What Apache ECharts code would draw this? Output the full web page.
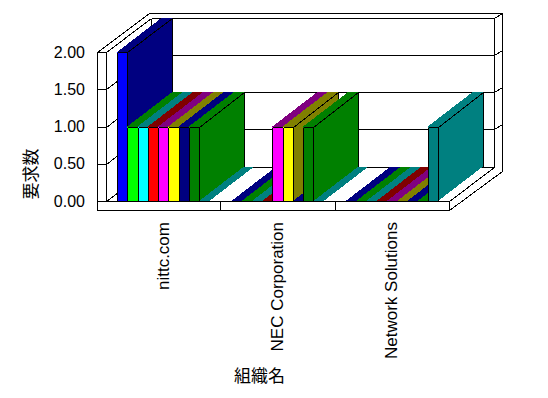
<!DOCTYPE html>
<html>
<head>
<meta charset="utf-8">
<style>
html,body{margin:0;padding:0;background:#fff}
#chart{width:548px;height:398px}
#chart svg path,#chart svg polygon,#chart svg polyline,#chart svg line,#chart svg rect{shape-rendering:crispEdges}
#chart svg text{-webkit-font-smoothing:none;font-smooth:never;text-rendering:optimizeSpeed}
</style>
<script src="https://cdn.jsdelivr.net/npm/echarts@6/dist/echarts.min.js"></script>
</head>
<body>
<div id="chart"></div>
<script>
const categories = ['nittc.com', 'NEC Corporation', 'Network Solutions'];
const yTicks = [0, 0.5, 1, 1.5, 2];
const series1 = [2, 0, 0];
const series2 = [1, 0, 0];
const series3 = [1, 0, 0];
const series4 = [1, 0, 0];
const series5 = [1, 1, 0];
const series6 = [1, 1, 0];
const series7 = [1, 0, 0];
const series8 = [1, 1, 0];
const series9 = [0, 0, 1];
const allSeries = [series1, series2, series3, series4, series5, series6, series7, series8, series9];
const frontColors = ['#0000ff', '#00ff00', '#00ffff', '#ff0000', '#ff00ff', '#ffff00', '#000080', '#008000', '#008080'];
const shadeColors = ['#000080', '#008000', '#008080', '#800000', '#800080', '#808000', '#000080', '#008000', '#008080'];
const xAxisTitle = '組織名';
const yAxisTitle = '要求数';

const DX = 45, DY = -34.5;          // depth of the box
const BAR = 10.25;                  // bar width
const BAND_LEFT = 9, BAND_BOTTOM = 9; // thickness of outer frame
const OX = 8, OY = -5;              // right band projection
const ink = {stroke: '#000', lineWidth: 1, fill: null};
const px = v => Math.round(v) + 0.5;

function poly(points, fill) {
  return {type: 'polygon', silent: true, shape: {points}, style: {fill, stroke: null}};
}
function stroke(points) {
  return {type: 'polyline', silent: true, shape: {points: points.map(p => [px(p[0]), px(p[1])])}, style: ink};
}

function renderFrame(params, api) {
  const tick = api.value(1);
  const y = api.coord([0, tick])[1];
  const sys = params.coordSys;
  const L = sys.x, R = sys.x + sys.width, T = sys.y, B = sys.y + sys.height;
  const els = [];
  const backY = y + DY;
  if (params.dataIndex === 0) {
    // Frame is drawn once, with the floor tick
    const bw = api.size([1, 0])[0];
    els.push(poly([[L - BAND_LEFT, T], [L, T], [L, B + BAND_BOTTOM], [L - BAND_LEFT, B + BAND_BOTTOM]], '#fff'));
    els.push(stroke([[L - BAND_LEFT, T], [L, T], [L, B]]));
    els.push(stroke([[L - BAND_LEFT, T], [L + DX - 2, T + DY - 5], [R + DX + OX, T + DY - 5], [R + DX + OX, B + DY + 4], [R, B + BAND_BOTTOM]]));
    els.push(stroke([[L, T], [L + DX, T + DY]]));
    els.push(stroke([[L + DX, T + DY], [R + DX, T + DY], [R + DX, B + DY], [L + DX, B + DY], [L + DX, T + DY]]));
    els.push(stroke([[R + DX, T + DY], [R + DX + OX, T + DY - 5]]));
    els.push(stroke([[L + DX, B + DY], [L, B]]));
    els.push(stroke([[R + DX, B + DY], [R, B]]));
    els.push(stroke([[L - BAND_LEFT, T], [L - BAND_LEFT, B + BAND_BOTTOM], [R, B + BAND_BOTTOM], [R, B], [L, B]]));
    for (let i = 1; i < categories.length; i++) {
      const x = L + i * bw;
      els.push(stroke([[x, B], [x, B + BAND_BOTTOM]]));
    }
  } else if (tick < yTicks[yTicks.length - 1]) {
    els.push(stroke([[L - BAND_LEFT, y], [L, y], [L + DX, backY], [R + DX, backY], [R + DX + OX, backY + OY]]));
  }
  if (tick === yTicks[0]) {
    // floor tick on the left band
    els.push(stroke([[L - BAND_LEFT, y], [L, y]]));
  }
  return {type: 'group', children: els};
}

function makeBarRenderer(index) {
  return function (params, api) {
    const cat = api.value(0), val = api.value(1);
    const base = api.coord([cat, 0]);
    const top = api.coord([cat, val]);
    const bw = api.size([1, 0])[0];
    const start = base[0] - bw / 2 + (bw - BAR * allSeries.length) / 2;
    const x0 = start + index * BAR, x1 = x0 + BAR;
    const yT = top[1], yB = base[1];
    const els = [];
    els.push(poly([[x0, yT], [x1, yT], [x1 + DX, yT + DY], [x0 + DX, yT + DY]], shadeColors[index]));
    if (val > 0) {
      els.push(poly([[x1, yT], [x1 + DX, yT + DY], [x1 + DX, yB + DY], [x1, yB]], shadeColors[index]));
      els.push(stroke([[x1, yT], [x1 + DX, yT + DY], [x1 + DX, yB + DY]]));
      els.push(poly([[x0, yT], [x1, yT], [x1, yB], [x0, yB]], frontColors[index]));
      els.push(stroke([[x0, yT], [x1, yT], [x1, yB], [x0, yB], [x0, yT]]));
    }
    return {type: 'group', children: els};
  };
}

const chart = echarts.init(document.getElementById('chart'), null, {renderer: 'svg', width: 548, height: 398});
const font = '"Liberation Sans", Arial, sans-serif';
chart.setOption({
  animation: false,
  backgroundColor: '#fff',
  grid: {left: 106, top: 52, width: 343, height: 149, containLabel: false},
  xAxis: {
    type: 'category', data: categories,
    axisLine: {show: false}, axisTick: {show: false}, splitLine: {show: false},
    axisLabel: {rotate: 90, margin: 21, color: '#000', fontFamily: font, fontSize: 17, interval: 0}
  },
  yAxis: {
    type: 'value', min: 0, max: 2, interval: 0.5,
    axisLine: {show: false}, axisTick: {show: false}, splitLine: {show: false},
    axisLabel: {margin: 21, color: '#000', fontFamily: font, fontSize: 16, formatter: v => v.toFixed(2)}
  },
  graphic: [
    {type: 'text', left: 234, top: 366, silent: true,
      style: {text: xAxisTitle, fill: '#000', font: '17px "Noto Sans CJK JP"'}},
    {type: 'text', x: 29, y: 174, rotation: Math.PI / 2, silent: true,
      style: {text: yAxisTitle, fill: '#000', font: '17px "Noto Sans CJK JP"', align: 'center', verticalAlign: 'middle'}}
  ],
  series: [
    {type: 'custom', name: 'frame', z: 1, data: yTicks.map(t => [0, t]), renderItem: renderFrame, encode: {x: 0, y: 1}}
  ].concat(allSeries.map((vals, i) => ({
    type: 'custom', name: 'series' + (i + 1), z: 2 + i,
    data: vals.map((v, c) => [c, v]),
    renderItem: makeBarRenderer(i), encode: {x: 0, y: 1}
  })))
});
</script>
</body>
</html>
